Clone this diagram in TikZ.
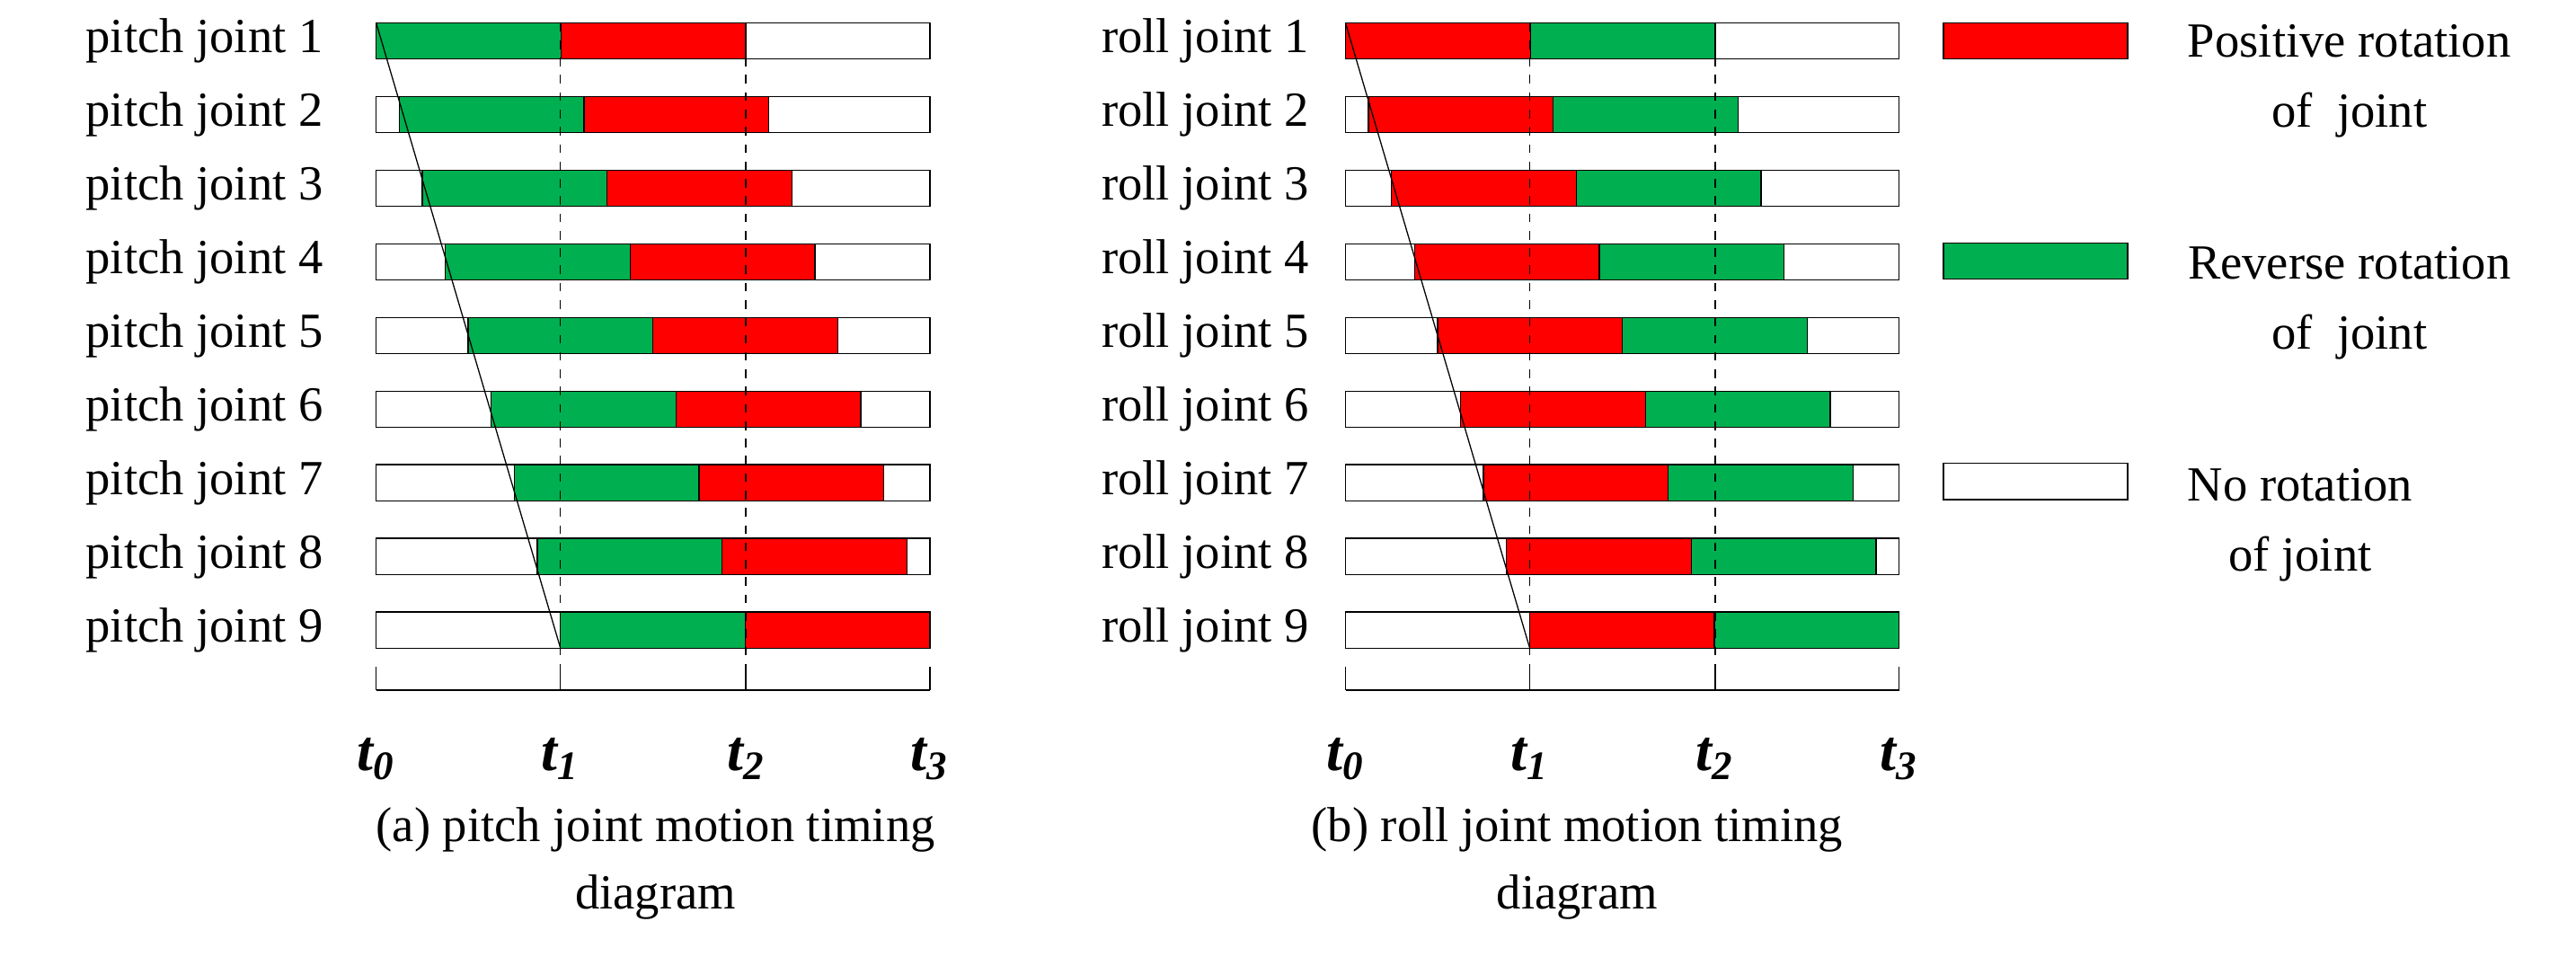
\documentclass[tikz,border=0pt]{standalone}
\usepackage{fontspec}
\setmainfont{Liberation Serif}
\definecolor{posred}{RGB}{255,0,0}
\definecolor{revgreen}{RGB}{0,176,80}
\tikzset{
 bar/.style={draw=black, thin},
 lab/.style={font=\fontsize{17}{20}\selectfont, inner sep=0pt},
 tlab/.style={font=\fontsize{20}{22}\selectfont\bfseries\itshape, inner sep=0pt}
}
\newcommand{\tk}[1]{t\textsubscript{#1}}
\begin{document}
\begin{tikzpicture}[x=0.02cm, y=-0.02cm]
 \useasboundingbox (0,0) rectangle (1568,582);
 % left panel: pitch joints
 \foreach \i in {0,...,8}{
  \pgfmathsetmacro{\yc}{25+\i*44.8}
  \pgfmathsetmacro{\gs}{229+\i*14}
  \draw[bar, fill=white] (229,\yc-11) rectangle (566,\yc+11);
  \draw[bar, fill=revgreen] (\gs,\yc-11) rectangle (\gs+112.5,\yc+11);
  \draw[bar, fill=posred] (\gs+112.5,\yc-11) rectangle ({min(\gs+225,566)},\yc+11);
  \pgfmathtruncatemacro{\n}{\i+1}
  \node[lab, anchor=east] (p\n) at (197,\yc) {pitch joint \n};
 }
 \draw (229,14) -- (341,394);
 \draw (229,420) -- (566,420);
 \foreach \x/\t in {229/0,341/1,454/2,566/3}{
  \draw (\x,420) -- (\x,406);
  \node[tlab] (lt\t) at (\x,462) {\tk{\t}};
 }
 \draw[dashed] (341,14) -- (341,420);
 \draw[dashed] (454,14) -- (454,420);
 \node[lab] (capa1) at (399,505) {(a) pitch joint motion timing};
 \node[lab] (capa2) at (399,546) {diagram};
 % right panel: roll joints
 \foreach \i in {0,...,8}{
  \pgfmathsetmacro{\yc}{25+\i*44.8}
  \pgfmathsetmacro{\gs}{819+\i*14}
  \draw[bar, fill=white] (819,\yc-11) rectangle (1156,\yc+11);
  \draw[bar, fill=posred] (\gs,\yc-11) rectangle (\gs+112.5,\yc+11);
  \draw[bar, fill=revgreen] (\gs+112.5,\yc-11) rectangle ({min(\gs+225,1156)},\yc+11);
  \pgfmathtruncatemacro{\n}{\i+1}
  \node[lab, anchor=east] (r\n) at (797,\yc) {roll joint \n};
 }
 \draw (819,14) -- (931,394);
 \draw (819,420) -- (1156,420);
 \foreach \x/\t in {819/0,931/1,1044/2,1156/3}{
  \draw (\x,420) -- (\x,406);
  \node[tlab] (rt\t) at (\x,462) {\tk{\t}};
 }
 \draw[dashed] (931,14) -- (931,420);
 \draw[dashed] (1044,14) -- (1044,420);
 \node[lab] (capb1) at (960,505) {(b) roll joint motion timing};
 \node[lab] (capb2) at (960,546) {diagram};
 % legend
 \draw[bar, fill=posred] (1183,14) rectangle (1295,36);
 \draw[bar, fill=revgreen] (1183,148) rectangle (1295,170);
 \draw[bar, fill=white] (1183,282) rectangle (1295,304);
 \node[lab] (lg1) at (1430,25) {Positive rotation};
 \node[lab] (lg2) at (1430,70) {of~ joint};
 \node[lab] (lg3) at (1430,160) {Reverse rotation};
 \node[lab] (lg4) at (1430,205) {of~ joint};
 \node[lab] (lg5) at (1400,295) {No rotation};
 \node[lab] (lg6) at (1400,340) {of joint};
\end{tikzpicture}
\end{document}
